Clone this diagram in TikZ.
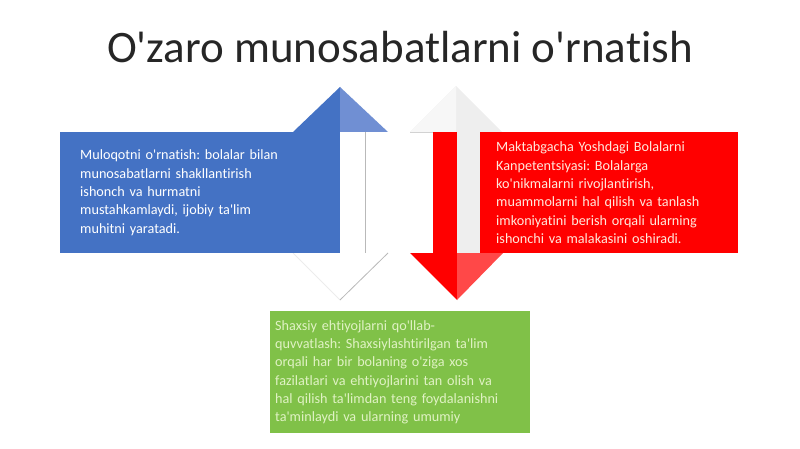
\documentclass[tikz,border=0pt]{standalone}
\usepackage{fontspec}
\setmainfont{Carlito}[Ligatures={TeXOff,CommonOff}]
\usepackage{tikz}
\usepackage{xcolor}
\usetikzlibrary{positioning, calc}

\definecolor{mblue}{RGB}{68,114,196}
\definecolor{mbluelt}{RGB}{112,143,211}
\definecolor{mred}{RGB}{255,0,0}
\definecolor{mredlt}{RGB}{255,72,72}
\definecolor{mgreen}{RGB}{128,193,72}
\definecolor{mgreentxt}{RGB}{224,242,196}
\definecolor{mredtxt}{RGB}{255,232,220}

\frenchspacing

\begin{document}
\begin{tikzpicture}[x=1pt, y=-1pt,
            box/.style={rectangle, draw=none, minimum height=121pt, align=left, inner ysep=0pt,
                font=\fontsize{14.2}{18.3}\selectfont},
            face/.style={draw=none},
            edge/.style={draw=gray!55, line width=0.8pt}
        ]
            \useasboundingbox (0,0) rectangle (800,449);

% Title
            \node[font=\fontsize{45}{52}\selectfont, text=black!85] (title) at (400,47) {O'zaro munosabatlarni o'rnatish};

% Up arrow (blue)
            \fill[mblue] (293,132) -- (340,87) -- (340,132) -- cycle;
            \fill[mbluelt] (340,87) -- (388,132) -- (340,132) -- cycle;
            \draw[edge] (365,132) -- (365,253);
            \fill[white] (293,253) -- (388,253) -- (340,300) -- cycle;
            \draw[gray!15, line width=0.8pt] (293,253) -- (340,300);
            \draw[edge] (388,253) -- (340,300);

% Down arrow (red)
            \fill[gray!13] (410,132) -- (456,86) -- (502,132) -- cycle;
            \fill[gray!6] (410,132) -- (456,86) -- (456,132) -- cycle;
            \draw[gray!35, line width=0.8pt] (410,132) -- (433,132);
            \fill[mred] (433,132) rectangle (457,253);
            \fill[gray!13] (457,132) rectangle (480,253);
            \fill[mred] (410,253) -- (457,253) -- (457,300) -- cycle;
            \fill[mredlt] (457,253) -- (503,253) -- (457,300) -- cycle;

% Text boxes
            \node[box, fill=mblue, text=white, text width=240pt, inner xsep=20pt, anchor=north west] (muloqot) at (60,132)
                {Muloqotni o'rnatish: bolalar bilan\\munosabatlarni shakllantirish\\ishonch va hurmatni\\mustahkamlaydi, ijobiy ta'lim\\muhitni yaratadi.};
            \node[box, fill=mred, text=mredtxt, text width=226pt, inner xsep=16pt, anchor=north west] (kompetent) at (480,132)
                {Maktabgacha Yoshdagi Bolalarni\\Kanpetentsiyasi: Bolalarga\\ko'nikmalarni rivojlantirish,\\muammolarni hal qilish va tanlash\\imkoniyatini berish orqali ularning\\ishonchi va malakasini oshiradi.};
            \node[box, fill=mgreen, text=mgreentxt, text width=250pt, inner xsep=5pt, minimum height=122pt, anchor=north west] (ehtiyoj) at (270,311)
                {Shaxsiy ehtiyojlarni qo'llab-\\quvvatlash: Shaxsiylashtirilgan ta'lim\\orqali har bir bolaning o'ziga xos\\fazilatlari va ehtiyojlarini tan olish va\\hal qilish ta'limdan teng foydalanishni\\ta'minlaydi va ularning umumiy};

        \end{tikzpicture}
\end{document}
